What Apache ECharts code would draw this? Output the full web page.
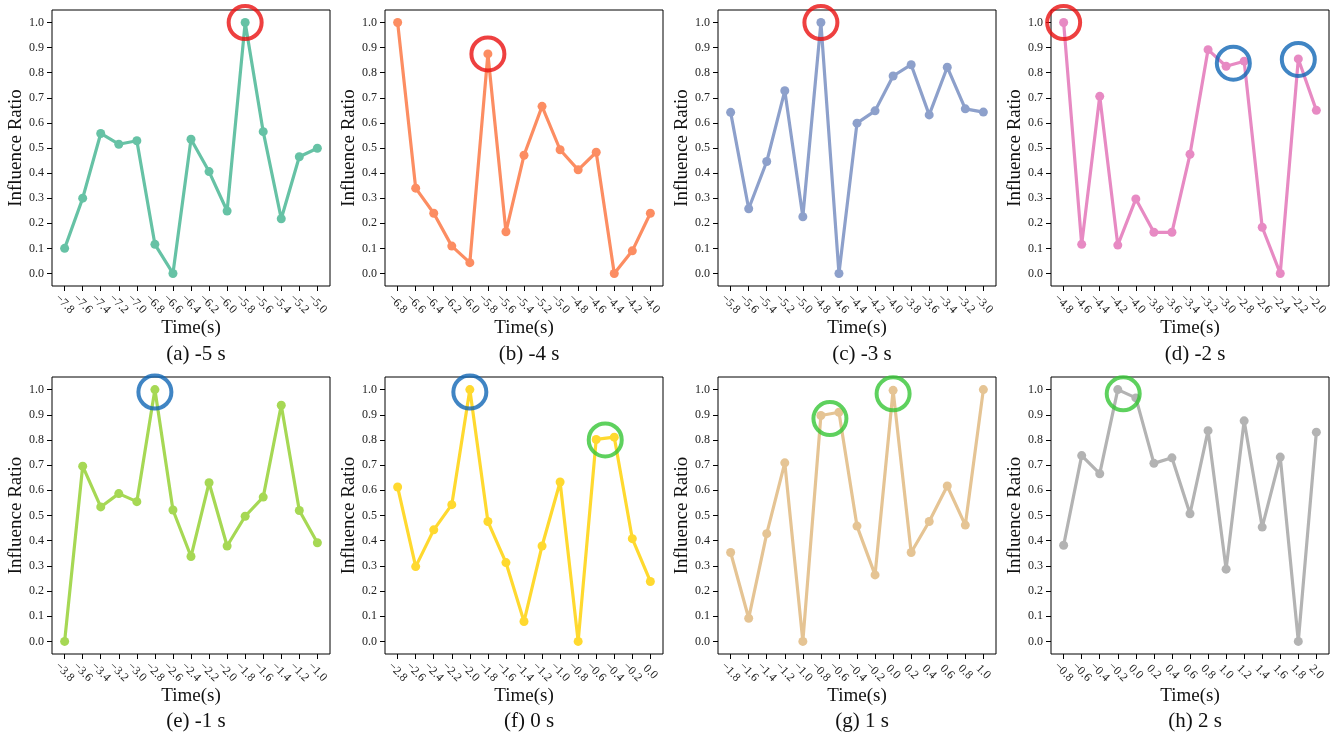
<!DOCTYPE html>
<html>
<head>
<meta charset="utf-8">
<script src="https://cdn.jsdelivr.net/npm/echarts@6/dist/echarts.min.js"></script>
<style>
html,body{margin:0;padding:0;background:#fff;}
#chart{width:1334px;height:743px;}
</style>
</head>
<body>
<div id="chart"></div>
<script>
// ---- tick labels ----
const ticksA = ['−7.8','−7.6','−7.4','−7.2','−7.0','−6.8','−6.6','−6.4','−6.2','−6.0','−5.8','−5.6','−5.4','−5.2','−5.0'];
const ticksB = ['−6.8','−6.6','−6.4','−6.2','−6.0','−5.8','−5.6','−5.4','−5.2','−5.0','−4.8','−4.6','−4.4','−4.2','−4.0'];
const ticksC = ['−5.8','−5.6','−5.4','−5.2','−5.0','−4.8','−4.6','−4.4','−4.2','−4.0','−3.8','−3.6','−3.4','−3.2','−3.0'];
const ticksD = ['−4.8','−4.6','−4.4','−4.2','−4.0','−3.8','−3.6','−3.4','−3.2','−3.0','−2.8','−2.6','−2.4','−2.2','−2.0'];
const ticksE = ['−3.8','−3.6','−3.4','−3.2','−3.0','−2.8','−2.6','−2.4','−2.2','−2.0','−1.8','−1.6','−1.4','−1.2','−1.0'];
const ticksF = ['−2.8','−2.6','−2.4','−2.2','−2.0','−1.8','−1.6','−1.4','−1.2','−1.0','−0.8','−0.6','−0.4','−0.2','0.0'];
const ticksG = ['−1.8','−1.6','−1.4','−1.2','−1.0','−0.8','−0.6','−0.4','−0.2','0.0','0.2','0.4','0.6','0.8','1.0'];
const ticksH = ['−0.8','−0.6','−0.4','−0.2','0.0','0.2','0.4','0.6','0.8','1.0','1.2','1.4','1.6','1.8','2.0'];
const yTicks = [0.0,0.1,0.2,0.3,0.4,0.5,0.6,0.7,0.8,0.9,1.0];

// ---- series values (Influence Ratio) ----
const valuesA = [0.10,0.30,0.558,0.515,0.529,0.116,0.0,0.535,0.406,0.249,1.0,0.565,0.218,0.465,0.499];
const valuesB = [1.0,0.34,0.24,0.109,0.043,0.875,0.166,0.471,0.666,0.493,0.413,0.483,0.0,0.09,0.24];
const valuesC = [0.642,0.258,0.446,0.728,0.226,1.0,0.0,0.599,0.648,0.787,0.832,0.632,0.822,0.656,0.643];
const valuesD = [1.0,0.116,0.706,0.113,0.297,0.164,0.164,0.475,0.892,0.826,0.846,0.184,0.0,0.855,0.65];
const valuesE = [0.0,0.696,0.534,0.587,0.555,1.0,0.522,0.337,0.630,0.379,0.497,0.573,0.938,0.520,0.392];
const valuesF = [0.613,0.297,0.443,0.543,1.0,0.476,0.313,0.079,0.379,0.633,0.0,0.802,0.811,0.408,0.238];
const valuesG = [0.353,0.092,0.428,0.709,0.0,0.897,0.910,0.458,0.264,0.997,0.353,0.476,0.617,0.462,1.0];
const valuesH = [0.382,0.738,0.666,1.0,0.967,0.707,0.729,0.507,0.837,0.287,0.876,0.454,0.732,0.0,0.831];

// ---- highlight circles: [tick index, ratio, kind] ----
const marksA = [[10,1.0,'red']];
const marksB = [[5,0.875,'red']];
const marksC = [[5,1.0,'red']];
const marksD = [[0,1.0,'red'],[9.4,0.838,'blue'],[13,0.853,'blue']];
const marksE = [[5,0.99,'blue']];
const marksF = [[4,0.99,'blue'],[11.5,0.80,'green']];
const marksG = [[5.5,0.885,'green'],[9,0.983,'green']];
const marksH = [[3.3,0.983,'green']];

const captions = ['(a) -5 s','(b) -4 s','(c) -3 s','(d) -2 s','(e) -1 s','(f) 0 s','(g) 1 s','(h) 2 s'];

const panels = [
  {ticks:ticksA, values:valuesA, marks:marksA, color:'#66c2a5'},
  {ticks:ticksB, values:valuesB, marks:marksB, color:'#fc8d62'},
  {ticks:ticksC, values:valuesC, marks:marksC, color:'#8da0cb'},
  {ticks:ticksD, values:valuesD, marks:marksD, color:'#e78ac3'},
  {ticks:ticksE, values:valuesE, marks:marksE, color:'#a6d854'},
  {ticks:ticksF, values:valuesF, marks:marksF, color:'#ffd92f'},
  {ticks:ticksG, values:valuesG, marks:marksG, color:'#e5c494'},
  {ticks:ticksH, values:valuesH, marks:marksH, color:'#b3b3b3'}
];
const markColors = {red:'#ea1010', blue:'#1066b5', green:'#36c636'};

const FONT = '"Liberation Serif","Times New Roman",serif';
const lefts = [52, 385, 718, 1051];
const W = 278;
const rows = [{top:10, h:276, cap:349}, {top:377, h:277, cap:716}];

const grids = [], xAxes = [], yAxes = [], series = [], titles = [];
panels.forEach((p, i) => {
  const r = rows[Math.floor(i/4)];
  const left = lefts[i%4];
  grids.push({left:left, top:r.top, width:W, height:r.h, show:true, borderColor:'#000', borderWidth:1, backgroundColor:'#fff'});
  const idx = p.ticks.map((_, k) => k);
  xAxes.push({
    type:'value', gridIndex:i, min:-0.7, max:14.7,
    splitLine:{show:false}, axisLine:{show:false, onZero:false},
    axisTick:{show:true, inside:false, customValues:idx, length:5, lineStyle:{color:'#000', width:1}},
    axisLabel:{customValues:idx, rotate:-45, align:'center', verticalAlign:'middle', margin:18,
      fontFamily:FONT, fontSize:12, color:'#222', formatter:(v)=>p.ticks[Math.round(v)]},
    name:'Time(s)', nameLocation:'middle', nameGap:33,
    nameTextStyle:{fontFamily:FONT, fontSize:19, color:'#111'}
  });
  yAxes.push({
    type:'value', gridIndex:i, min:-0.05, max:1.05,
    splitLine:{show:false}, axisLine:{show:false, onZero:false},
    axisTick:{show:true, inside:false, customValues:yTicks, length:5, lineStyle:{color:'#000', width:1}},
    axisLabel:{customValues:yTicks, margin:8, fontFamily:FONT, fontSize:12, color:'#222',
      formatter:(v)=>v.toFixed(1)},
    name:'Influence Ratio', nameLocation:'middle', nameGap:25,
    nameTextStyle:{fontFamily:FONT, fontSize:19, color:'#111'}
  });
  series.push({
    type:'line', xAxisIndex:i, yAxisIndex:i,
    data:p.values.map((v,k)=>[k,v]),
    symbol:'circle', symbolSize:9, showSymbol:true,
    lineStyle:{color:p.color, width:3.2},
    itemStyle:{color:p.color},
    animation:false, z:2
  });
  series.push({
    type:'scatter', xAxisIndex:i, yAxisIndex:i,
    data:p.marks.map(m=>({value:[m[0],m[1]], itemStyle:{borderColor:markColors[m[2]]}})),
    symbol:'circle', symbolSize:33,
    itemStyle:{color:'rgba(0,0,0,0)', borderWidth:4},
    animation:false, z:5, silent:true
  });
  titles.push({
    text:captions[i], left:left + W/2, top:r.cap, textAlign:'center', textVerticalAlign:'middle',
    textStyle:{fontFamily:FONT, fontSize:21, fontWeight:'normal', color:'#111'}
  });
});

const chart = echarts.init(document.getElementById('chart'), null, {renderer:'canvas'});
chart.setOption({
  backgroundColor:'#fff',
  animation:false,
  title:titles,
  grid:grids,
  xAxis:xAxes,
  yAxis:yAxes,
  series:series
});
</script>
</body>
</html>
